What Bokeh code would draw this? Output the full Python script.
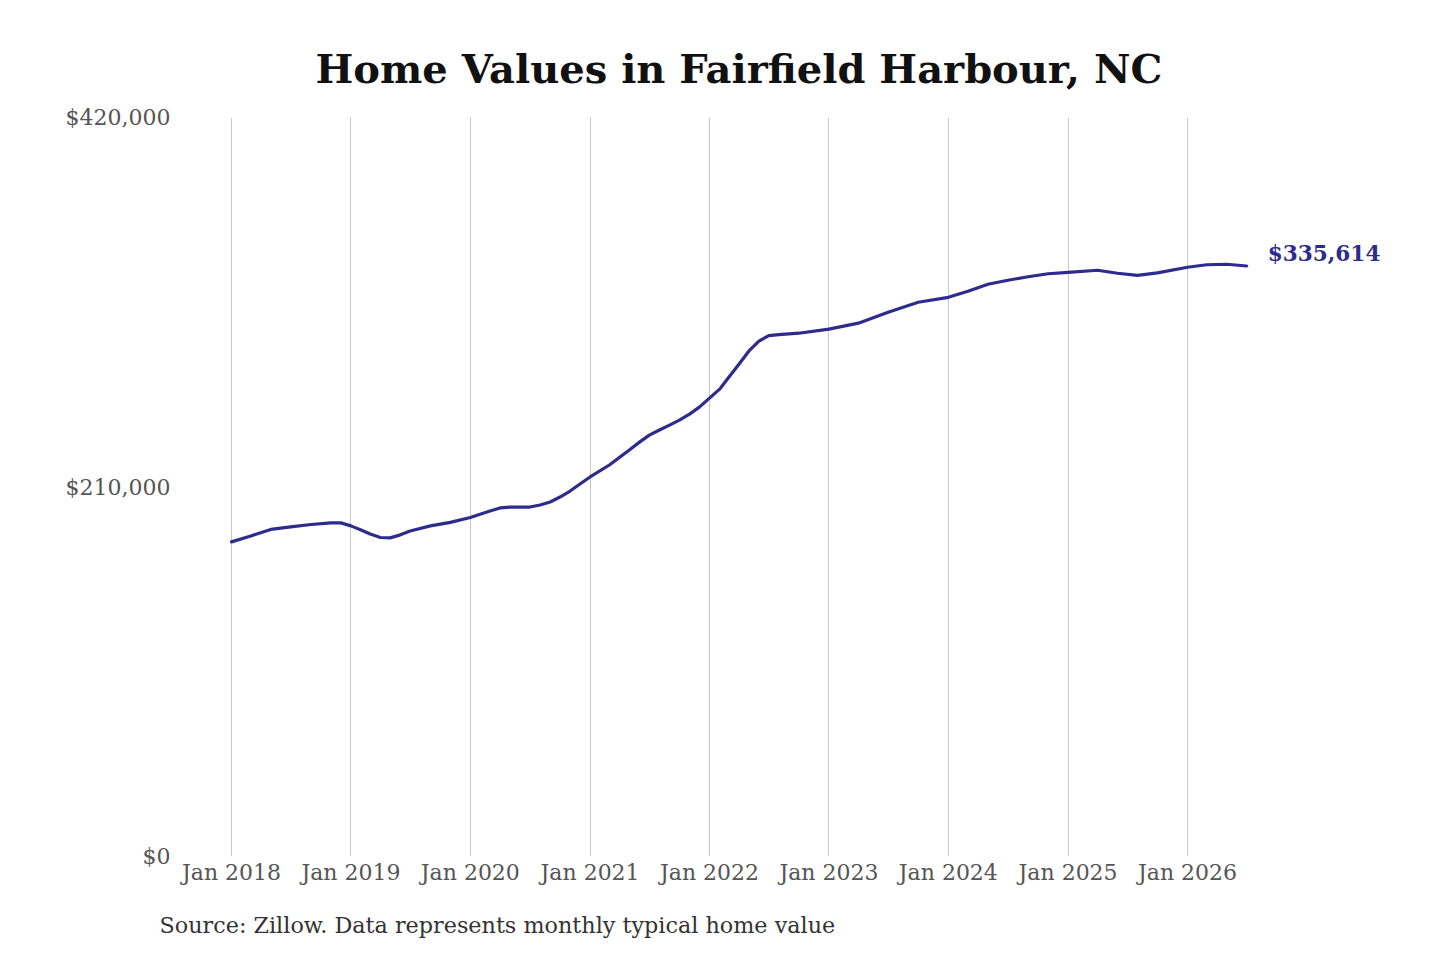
from datetime import datetime, timezone
import pandas as pd
from bokeh.plotting import figure
from bokeh.models import (Range1d, FixedTicker, DatetimeTickFormatter, NumeralTickFormatter,
                          Label, Title, ColumnDataSource)
from bokeh.embed import file_html
from bokeh.resources import INLINE

# ---- data ----
dates = ["2018-01", "2018-03", "2018-05", "2018-07", "2018-09", "2018-11", "2018-12",
         "2019-01", "2019-02", "2019-03", "2019-04", "2019-05", "2019-06", "2019-07",
         "2019-09", "2019-11",
         "2020-01", "2020-03", "2020-04", "2020-05", "2020-07", "2020-08", "2020-09",
         "2020-10", "2020-11", "2020-12",
         "2021-01", "2021-03", "2021-05", "2021-06", "2021-07", "2021-08", "2021-09",
         "2021-10", "2021-11", "2021-12",
         "2022-01", "2022-02", "2022-03", "2022-04", "2022-05", "2022-06", "2022-07",
         "2022-08", "2022-10",
         "2023-01", "2023-04", "2023-07", "2023-10",
         "2024-01", "2024-03", "2024-05", "2024-07", "2024-09", "2024-11",
         "2025-01", "2025-04", "2025-06", "2025-08", "2025-10",
         "2026-01", "2026-03", "2026-05", "2026-07"]
values = [178800, 182200, 185900, 187300, 188700, 189600, 189600,
          187900, 185600, 183300, 181300, 181100, 182800, 185000,
          187900, 189900,
          192700, 196400, 198100, 198600, 198600, 199800, 201500,
          204300, 207700, 211700,
          215700, 222500, 231000, 235500, 239500, 242400, 245200,
          248000, 251400, 255400,
          260500, 265600, 272400, 279800, 287200, 292900, 296000,
          296600, 297400,
          299700, 303100, 309300, 315000,
          317800, 321200, 325200, 327500, 329500, 331200,
          332000, 333200, 331500, 330300, 331700,
          334900, 336300, 336600, 335614]
tick_years = [2018, 2019, 2020, 2021, 2022, 2023, 2024, 2025, 2026]
y_ticks = [0, 210000, 420000]

title_text = "Home Values in Fairfield Harbour, NC"
source_text = "Source: Zillow. Data represents monthly typical home value"

# ---- styling / layout ----
LINE_COLOR = "#2e2b8f"
FONT = "DejaVu Serif"

x = pd.to_datetime(dates)
tick_ms = [datetime(yr, 1, 1, tzinfo=timezone.utc).timestamp() * 1000 for yr in tick_years]

FRAME_L, FRAME_R, FRAME_T, FRAME_B = 180, 1420, 117, 856
ms_per_px = (tick_ms[-1] - tick_ms[0]) / (1187 - 231)
x_start = tick_ms[0] - (231 - FRAME_L) * ms_per_px
x_end = tick_ms[0] + (FRAME_R - 231) * ms_per_px

W, H = 1424, 960
p = figure(width=W, height=H, x_axis_type="datetime", output_backend="svg",
           toolbar_location=None, tools="",
           x_range=Range1d(x_start, x_end), y_range=Range1d(0, 420000),
           min_border_left=FRAME_L, min_border_right=W - FRAME_R,
           min_border_top=FRAME_T, min_border_bottom=H - FRAME_B)
p.outline_line_color = None
p.background_fill_color = "white"
p.border_fill_color = "white"

p.title.text = title_text
p.title.text_font = FONT
p.title.text_font_style = "bold"
p.title.text_font_size = "40px"
p.title.text_color = "#111111"
p.title.align = "left"
p.title.offset = 315 - FRAME_L
p.title.standoff = 52

src = Title(text=source_text, text_font=FONT, text_font_size="22.3px",
            text_font_style="normal", text_color="#333333", align="left",
            offset=159 - FRAME_L, standoff=44, vertical_align="bottom")
p.add_layout(src, "below")

# axes
p.xaxis.ticker = FixedTicker(ticks=tick_ms)
fmt = "%b %Y"
p.xaxis.formatter = DatetimeTickFormatter(years=fmt, months=fmt, days=fmt, hours=fmt,
                                          hourmin=fmt, minutes=fmt, minsec=fmt,
                                          seconds=fmt, milliseconds=fmt, microseconds=fmt)
p.yaxis.ticker = FixedTicker(ticks=y_ticks)
p.yaxis.formatter = NumeralTickFormatter(format="$0,0")
for ax in (p.xaxis, p.yaxis):
    ax.axis_line_color = None
    ax.major_tick_line_color = None
    ax.minor_tick_line_color = None
    ax.major_label_text_font = FONT
    ax.major_label_text_font_size = "22px"
    ax.major_label_text_color = "#555555"
p.xaxis.major_label_standoff = -3
p.yaxis.major_label_standoff = 4

p.xgrid.ticker = FixedTicker(ticks=tick_ms)
p.xgrid.grid_line_color = "#c8c8c8"
p.xgrid.grid_line_width = 1
p.ygrid.grid_line_color = None

source = ColumnDataSource(data=dict(x=x, y=values))
p.line("x", "y", source=source, line_color=LINE_COLOR, line_width=3.2,
       line_join="round", line_cap="round")

last_val = values[-1]
p.add_layout(Label(x=x[-1], y=last_val, text=f"${last_val:,}", x_offset=21, y_offset=12,
                   text_font=FONT, text_font_style="bold", text_font_size="21.6px",
                   text_color=LINE_COLOR, text_baseline="middle", text_align="left"))

open("out.html", "w").write(file_html(p, INLINE))
